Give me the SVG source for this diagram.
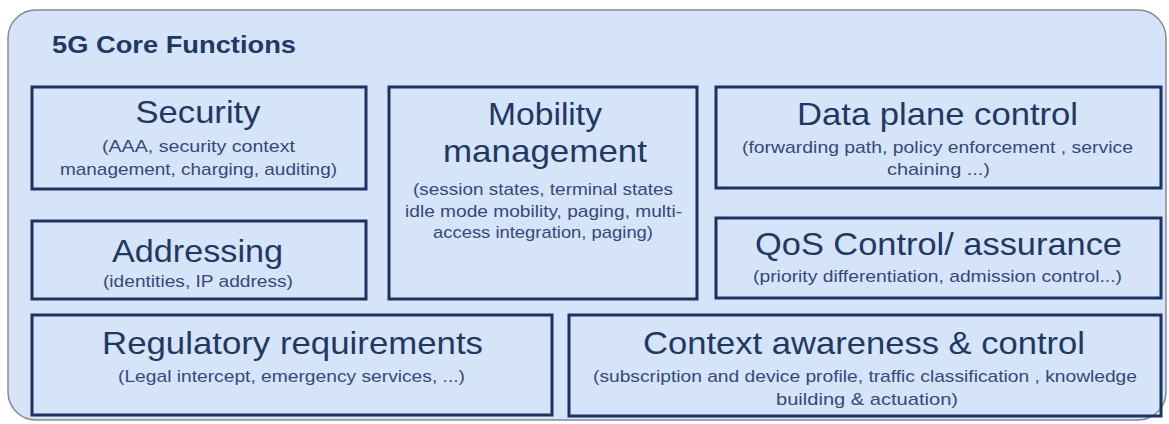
<svg xmlns="http://www.w3.org/2000/svg" width="1169" height="424" viewBox="0 0 1169 424">
  <style>
    .box { fill: none; stroke: #1b3262; stroke-width: 3; }
    .h { font-family: "Liberation Sans", Arial, sans-serif; font-size: 32px; fill: #1f3864; text-anchor: middle; }
    .s { font-family: "Liberation Sans", Arial, sans-serif; font-size: 17px; fill: #34497a; text-anchor: middle; }
    .t { font-family: "Liberation Sans", Arial, sans-serif; font-size: 24px; font-weight: bold; fill: #1f3864; }
  </style>
  <rect width="1169" height="424" fill="#ffffff"/>
  <g id="container">
    <rect x="8" y="10" width="1158" height="410" rx="28" ry="28" fill="#d6e4f9" stroke="#858a92" stroke-width="1.5"/>
    <text class="t" x="52" y="53" textLength="244" lengthAdjust="spacingAndGlyphs">5G Core Functions</text>
  </g>
  <g id="security">
    <rect class="box" x="32" y="87" width="334" height="102"/>
    <text class="h" x="198" y="123" textLength="125" lengthAdjust="spacingAndGlyphs">Security</text>
    <text class="s" x="198.5" y="152" textLength="193" lengthAdjust="spacingAndGlyphs">(AAA,  security context</text>
    <text class="s" x="198.5" y="175" textLength="277" lengthAdjust="spacingAndGlyphs">management, charging, auditing)</text>
  </g>
  <g id="mobility">
    <rect class="box" x="389" y="87" width="308" height="212"/>
    <text class="h" x="545" y="125" textLength="114" lengthAdjust="spacingAndGlyphs">Mobility</text>
    <text class="h" x="545" y="162" textLength="204" lengthAdjust="spacingAndGlyphs">management</text>
    <text class="s" x="543" y="195" textLength="260" lengthAdjust="spacingAndGlyphs">(session states, terminal  states</text>
    <text class="s" x="543.5" y="217" textLength="277" lengthAdjust="spacingAndGlyphs">idle mode mobility,  paging,  multi-</text>
    <text class="s" x="543" y="238" textLength="220" lengthAdjust="spacingAndGlyphs">access integration, paging)</text>
  </g>
  <g id="dataplane">
    <rect class="box" x="716" y="87" width="445" height="101"/>
    <text class="h" x="937.5" y="125" textLength="281" lengthAdjust="spacingAndGlyphs">Data plane control</text>
    <text class="s" x="937.5" y="153" textLength="391" lengthAdjust="spacingAndGlyphs">(forwarding path,  policy enforcement , service</text>
    <text class="s" x="938.5" y="175" textLength="103" lengthAdjust="spacingAndGlyphs">chaining  ...)</text>
  </g>
  <g id="qos">
    <rect class="box" x="716" y="218" width="445" height="80"/>
    <text class="h" x="938.5" y="255" textLength="367" lengthAdjust="spacingAndGlyphs">QoS Control/ assurance</text>
    <text class="s" x="937.5" y="282" textLength="369" lengthAdjust="spacingAndGlyphs">(priority differentiation, admission control...)</text>
  </g>
  <g id="addressing">
    <rect class="box" x="32" y="221" width="334" height="78"/>
    <text class="h" x="197.5" y="262" textLength="171" lengthAdjust="spacingAndGlyphs">Addressing</text>
    <text class="s" x="198" y="287" textLength="190" lengthAdjust="spacingAndGlyphs">(identities, IP address)</text>
  </g>
  <g id="regulatory">
    <rect class="box" x="32" y="315" width="520" height="100"/>
    <text class="h" x="292.5" y="354" textLength="381" lengthAdjust="spacingAndGlyphs">Regulatory requirements</text>
    <text class="s" x="291.5" y="382" textLength="347" lengthAdjust="spacingAndGlyphs">(Legal intercept, emergency services, ...)</text>
  </g>
  <g id="context">
    <rect class="box" x="569" y="315" width="592" height="101"/>
    <text class="h" x="864" y="354" textLength="442" lengthAdjust="spacingAndGlyphs">Context awareness &amp; control</text>
    <text class="s" x="865" y="382" textLength="544" lengthAdjust="spacingAndGlyphs">(subscription and device  profile, traffic classification , knowledge</text>
    <text class="s" x="867" y="405" textLength="182" lengthAdjust="spacingAndGlyphs">building   &amp; actuation)</text>
  </g>
  <g id="connectors"></g>
</svg>
